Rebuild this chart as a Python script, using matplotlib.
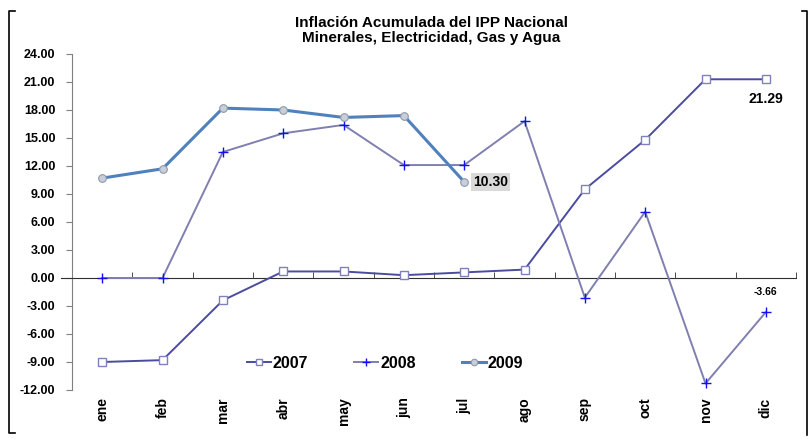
import matplotlib
matplotlib.use("Agg")
import matplotlib.pyplot as plt
from matplotlib.lines import Line2D
import numpy as np

months = ["ene", "feb", "mar", "abr", "may", "jun", "jul", "ago", "sep", "oct", "nov", "dic"]
s2007 = [-9.0, -8.8, -2.4, 0.7, 0.7, 0.3, 0.6, 0.9, 9.5, 14.8, 21.29, 21.29]
s2008 = [0.0, 0.0, 13.5, 15.5, 16.4, 12.1, 12.1, 16.8, -2.1, 7.1, -11.3, -3.66]
s2009 = [10.7, 11.7, 18.2, 18.0, 17.2, 17.4, 10.30]
yticks = np.arange(-12, 25, 3)

plt.rcParams["font.family"] = ["Liberation Sans", "DejaVu Sans"]

fig = plt.figure(figsize=(8.12, 4.45), dpi=100)
ax = fig.add_axes([0.0887, 0.1236, 0.8916, 0.7551])

x = np.arange(len(months))
ax.plot(x, s2007, color="#4B4BA0", lw=1.4, marker="s", ms=5.5,
        mfc="white", mec="#8080C0", mew=1.0, label="2007", zorder=3)
ax.plot(x, s2008, color="#7F7FB0", lw=1.4, marker="+", ms=7,
        mec="#1010F0", mew=1.0, label="2008", zorder=3)
ax.plot(x[:len(s2009)], s2009, color="#4F81BD", lw=2.2, marker="o", ms=5.5,
        mfc="#C8CEDA", mec="#9098A8", mew=0.8, label="2009", zorder=4)

ax.set_xlim(-0.5, len(months) - 0.5)
ax.set_ylim(-12, 24)
ax.set_yticks(yticks)
ax.set_yticklabels([f"{v:.2f}" for v in yticks], fontweight="bold", fontsize=9)
ax.tick_params(axis="y", direction="out", length=4, color="#808080", pad=8)

for side in ["top", "right"]:
    ax.spines[side].set_visible(False)
ax.spines["left"].set_color("#808080")
ax.spines["bottom"].set_position(("data", 0))
ax.spines["bottom"].set_color("#303030")
ax.set_xticks([])
ax.set_xticks(np.arange(-0.5, len(months), 1), minor=True)
ax.tick_params(axis="x", which="minor", direction="in", length=4, color="#303030")
ax.add_line(Line2D([-0.68, -0.5], [0, 0], color="#303030", lw=0.8, clip_on=False))

for i, m in enumerate(months):
    ax.text(i, -0.022, m, transform=ax.get_xaxis_transform(), rotation=90,
            ha="center", va="top", fontweight="bold", fontsize=10)

ax.text(6.15, 10.30, "10.30", fontweight="bold", fontsize=10, va="center", ha="left",
        bbox=dict(boxstyle="square,pad=0.15", fc="#D9D9D9", ec="none"), zorder=5)
ax.text(11, 19.2, "21.29", fontweight="bold", fontsize=10, ha="center", va="center")
ax.text(11, -1.5, "-3.66", fontweight="bold", fontsize=7.5, ha="center", va="center")

ax.legend(loc="center left", bbox_to_anchor=(0.222, 0.08), ncol=3, frameon=False,
          prop=dict(weight="bold", size=11.5), handlelength=1.5, handletextpad=0.1,
          columnspacing=2.9, numpoints=1, markerscale=0.85)

fig.text(0.531, 0.932, "Inflación Acumulada del IPP Nacional\nMinerales, Electricidad, Gas y Agua",
         ha="center", va="center", fontweight="bold", fontsize=11,
         family=["Liberation Sans Narrow", "Liberation Sans"], linespacing=1.1)

# outer frame brackets
fig.add_artist(Line2D([0.018, 0.011, 0.011, 0.018], [0.975, 0.975, 0.027, 0.027],
                      color="black", lw=1.2, transform=fig.transFigure))
fig.add_artist(Line2D([0.988, 0.994, 0.994], [0.975, 0.975, 0.022],
                      color="black", lw=1.2, transform=fig.transFigure))

fig.savefig("out.png", dpi=100)
